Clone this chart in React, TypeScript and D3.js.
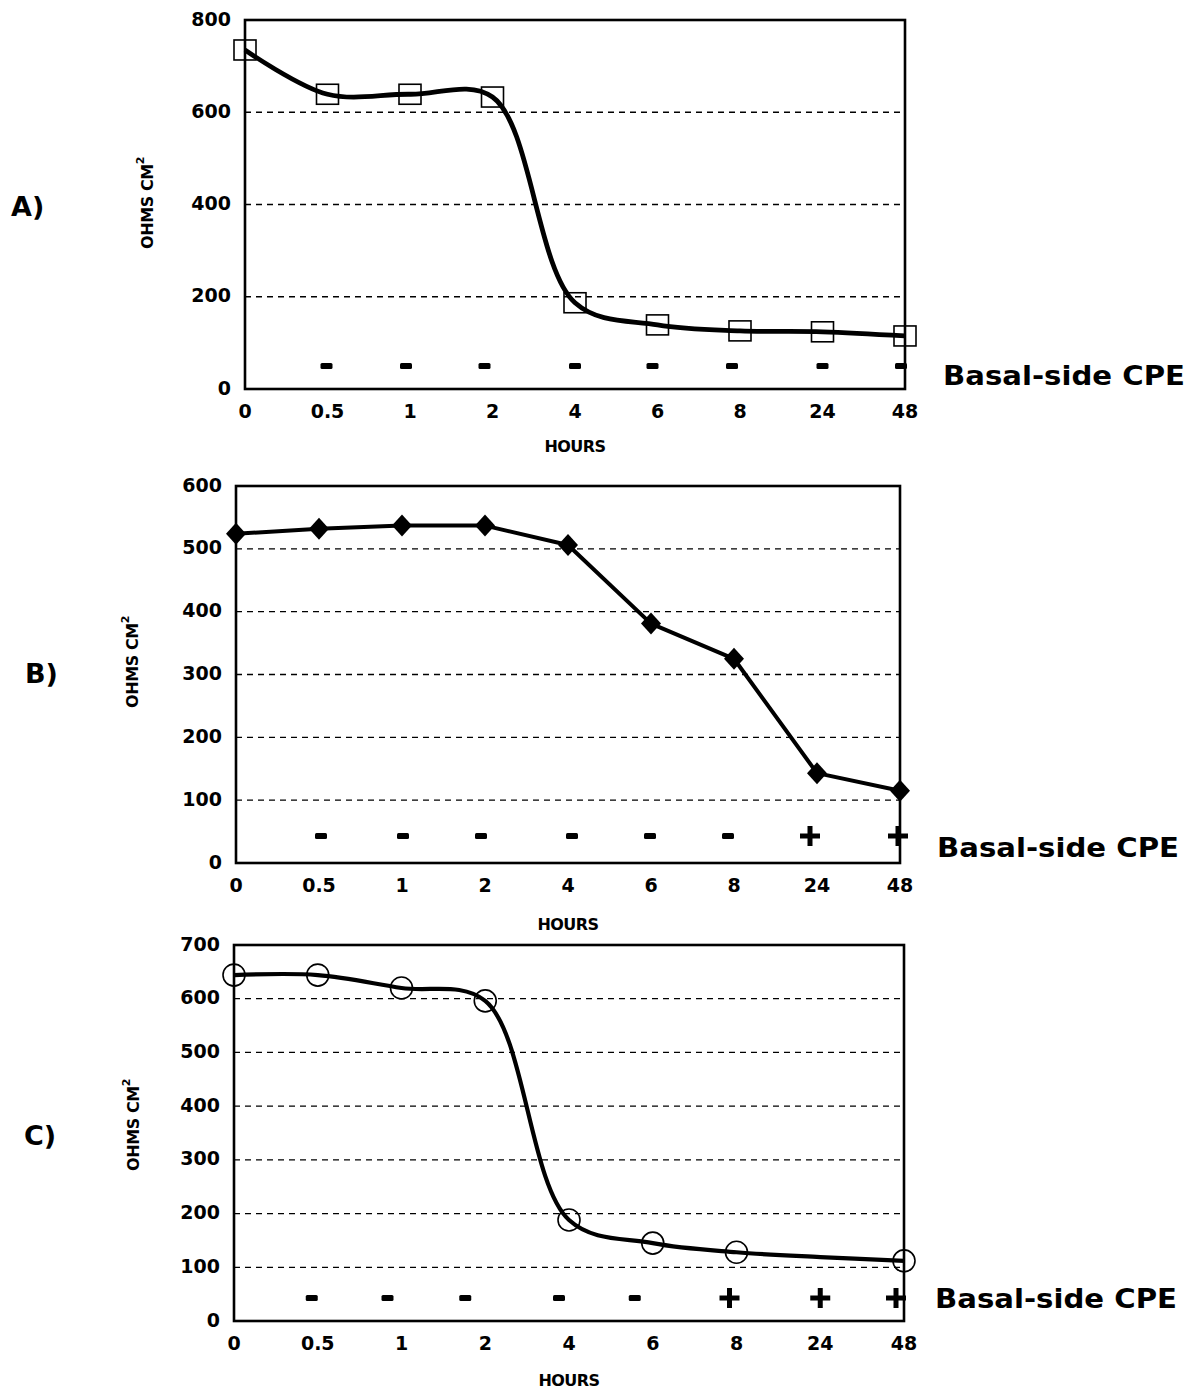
import React from "react";
import * as d3 from "d3";

const hours = ["0", "0.5", "1", "2", "4", "6", "8", "24", "48"];

const valuesA = [735, 639, 639, 633, 187, 139, 126, 124, 115];
const valuesB = [524, 532, 537, 537, 506, 381, 325, 143, 115];
const valuesC = [644, 644, 620, 596, 188, 145, 128, 119, 112];
const markerShownC = [true, true, true, true, true, true, true, false, true];

const signsA = ["-", "-", "-", "-", "-", "-", "-", "-"];
const signsB = ["-", "-", "-", "-", "-", "-", "+", "+"];
const signsC = ["-", "-", "-", "-", "-", "+", "+", "+"];
const signHours = ["0.5", "1", "2", "4", "6", "8", "24", "48"];

const ticksA = [0, 200, 400, 600, 800];
const ticksB = [0, 100, 200, 300, 400, 500, 600];
const ticksC = [0, 100, 200, 300, 400, 500, 600, 700];

const FONT = "'DejaVu Sans', 'Liberation Sans', Arial, sans-serif";

type PanelProps = {
  letter: string;
  values: number[];
  markerShown?: boolean[];
  signs: string[];
  signShift: number[];
  yTicks: number[];
  left: number;
  right: number;
  top: number;
  bottom: number;
  marker: "square" | "diamond" | "circle";
  smooth: boolean;
  lineWidth: number;
  letterX: number;
  letterY: number;
  yTitleX: number;
  yTitleY: number;
  hoursY: number;
  cpeX: number;
  cpeY: number;
  signY: number;
};

function Panel(p: PanelProps) {
  const x = d3.scalePoint<string>().domain(hours).range([p.left, p.right]).padding(0);
  const y = d3
    .scaleLinear()
    .domain([0, p.yTicks[p.yTicks.length - 1]])
    .range([p.bottom, p.top]);
  const pts: [number, number][] = p.values.map((v, i) => [x(hours[i])!, y(v)]);
  const line = d3
    .line<[number, number]>()
    .x((d) => d[0])
    .y((d) => d[1])
    .curve(p.smooth ? d3.curveCatmullRom.alpha(0.5) : d3.curveLinear);
  const grid = p.yTicks.slice(1, p.yTicks.length - 1);
  return (
    <g>
      <text x={p.letterX} y={p.letterY} fontFamily={FONT} fontSize={27} fontWeight="bold" dominantBaseline="middle">
        {p.letter}
      </text>
      {grid.map((t) => (
        <line
          key={t}
          x1={p.left}
          x2={p.right}
          y1={y(t)}
          y2={y(t)}
          stroke="#000"
          strokeWidth={1.3}
          strokeDasharray="6,5"
        />
      ))}
      <rect
        x={p.left}
        y={p.top}
        width={p.right - p.left}
        height={p.bottom - p.top}
        fill="none"
        stroke="#000"
        strokeWidth={2.6}
      />
      {p.yTicks.map((t) => (
        <text
          key={t}
          x={p.left - 14}
          y={y(t)}
          textAnchor="end"
          dominantBaseline="middle"
          fontFamily={FONT}
          fontSize={19}
          fontWeight="bold"
        >
          {t}
        </text>
      ))}
      {hours.map((h) => (
        <text
          key={h}
          x={x(h)}
          y={p.bottom + 23}
          textAnchor="middle"
          dominantBaseline="middle"
          fontFamily={FONT}
          fontSize={19}
          fontWeight="bold"
        >
          {h}
        </text>
      ))}
      <text
        x={(p.left + p.right) / 2}
        y={p.hoursY}
        textAnchor="middle"
        dominantBaseline="middle"
        fontFamily={FONT}
        fontSize={16}
        fontWeight="bold"
        letterSpacing={-0.6}
      >
        HOURS
      </text>
      <text
        transform={`translate(${p.yTitleX},${p.yTitleY}) rotate(-90)`}
        textAnchor="middle"
        dominantBaseline="middle"
        fontFamily={FONT}
        fontSize={16}
        fontWeight="bold"
        letterSpacing={-0.4}
      >
        OHMS CM
        <tspan fontSize={11} dy={-7}>
          2
        </tspan>
      </text>
      <path d={line(pts)!} fill="none" stroke="#000" strokeWidth={p.lineWidth} strokeLinejoin="round" />
      {pts.map(([cx, cy], i) => {
        if (p.markerShown && !p.markerShown[i]) return null;
        if (p.marker === "square")
          return (
            <rect key={i} x={cx - 11} y={cy - 10} width={22} height={20} fill="none" stroke="#000" strokeWidth={1.6} />
          );
        if (p.marker === "diamond")
          return (
            <path
              key={i}
              d={`M${cx},${cy - 11}L${cx + 10},${cy}L${cx},${cy + 11}L${cx - 10},${cy}Z`}
              fill="#000"
            />
          );
        return <circle key={i} cx={cx} cy={cy} r={11} fill="none" stroke="#000" strokeWidth={1.6} />;
      })}
      {p.signs.map((s, i) => {
        const cx = x(signHours[i])! + p.signShift[i];
        const cy = p.signY;
        if (s === "-")
          return <rect key={i} x={cx - 6} y={cy - 3} width={12} height={6} rx={1.5} fill="#000" />;
        return (
          <path
            key={i}
            d={`M${cx - 10},${cy}H${cx + 10}M${cx},${cy - 10}V${cy + 10}`}
            stroke="#000"
            strokeWidth={5}
          />
        );
      })}
      <text
        x={p.cpeX}
        y={p.cpeY}
        dominantBaseline="middle"
        fontFamily={FONT}
        fontSize={27}
        fontWeight="bold"
        textLength={242}
        lengthAdjust="spacingAndGlyphs"
      >
        Basal-side CPE
      </text>
    </g>
  );
}

export default function App() {
  return (
    <svg width={1198} height={1392} style={{ display: "block", position: "absolute", left: 0, top: 0 }}>
      <rect width={1198} height={1392} fill="#fff" />
      <Panel
        letter="A)"
        values={valuesA}
        signs={signsA}
        signShift={[-1, -4, -8, 0, -5, -8, 0, -4]}
        yTicks={ticksA}
        left={245}
        right={905}
        top={20}
        bottom={389}
        marker="square"
        smooth={true}
        lineWidth={4.8}
        letterX={11}
        letterY={208}
        yTitleX={148}
        yTitleY={203}
        hoursY={447}
        cpeX={943}
        cpeY={377}
        signY={366}
      />
      <Panel
        letter="B)"
        values={valuesB}
        signs={signsB}
        signShift={[2, 1, -4, 4, -1, -6, -7, -2]}
        yTicks={ticksB}
        left={236}
        right={900}
        top={486}
        bottom={863}
        marker="diamond"
        smooth={false}
        lineWidth={4}
        letterX={25}
        letterY={675}
        yTitleX={133}
        yTitleY={662}
        hoursY={925}
        cpeX={937}
        cpeY={849}
        signY={836}
      />
      <Panel
        letter="C)"
        values={valuesC}
        markerShown={markerShownC}
        signs={signsC}
        signShift={[-6, -14, -20, -10, -18, -7, 0, -8]}
        yTicks={ticksC}
        left={234}
        right={904}
        top={945}
        bottom={1321}
        marker="circle"
        smooth={true}
        lineWidth={4.2}
        letterX={24}
        letterY={1137}
        yTitleX={134}
        yTitleY={1125}
        hoursY={1381}
        cpeX={935}
        cpeY={1300}
        signY={1298}
      />
    </svg>
  );
}
